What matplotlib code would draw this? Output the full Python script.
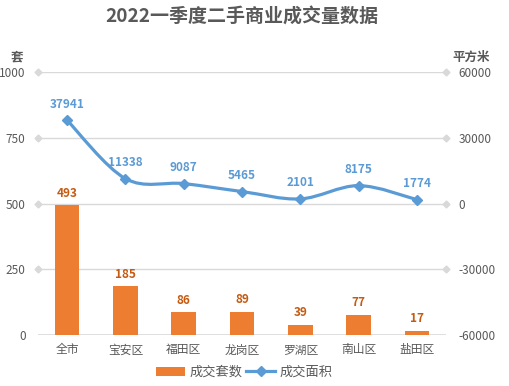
import numpy as np
import matplotlib
matplotlib.use("Agg")
import matplotlib.pyplot as plt
from matplotlib.path import Path
from matplotlib.patches import PathPatch, Patch
from matplotlib.lines import Line2D

plt.rcParams['font.family'] = ['Noto Sans CJK SC', 'DejaVu Sans']
plt.rcParams['axes.unicode_minus'] = False

# 数据
districts = ["全市", "宝安区", "福田区", "龙岗区", "罗湖区", "南山区", "盐田区"]
units = [493, 185, 86, 89, 39, 77, 17]
area = [37941, 11338, 9087, 5465, 2101, 8175, 1774]

left_ticks = [0, 250, 500, 750, 1000]
right_ticks = [-60000, -30000, 0, 30000, 60000]

orange = "#ED7D31"
blue = "#5B9BD5"
txt = "#595959"
grid_c = "#D9D9D9"

fig = plt.figure(figsize=(5.09, 3.86), dpi=100)
ax = fig.add_axes([0.0747, 0.132, 0.8015, 0.6815])
ax2 = ax.twinx()

x = np.arange(len(districts))

# 柱
ax.bar(x, units, width=0.42, color=orange, zorder=2)
for xi, v in zip(x, units):
    ax.annotate(str(v), (xi, v), xytext=(0, 4), textcoords="offset points",
                ha="center", va="bottom", color="#C55A11", fontsize=8.5,
                fontweight="bold")

ax.set_xlim(-0.5, len(districts) - 0.5)
ax.set_ylim(0, 1000)
ax.set_yticks(left_ticks)
ax2.set_ylim(-60000, 60000)
ax2.set_yticks(right_ticks)

# 网格
for t in left_ticks[1:]:
    ax.axhline(t, color=grid_c, lw=1, zorder=0)
ax.axhline(0, color=grid_c, lw=1.2, zorder=1)
for t in left_ticks[1:]:
    ax.plot([-0.5], [t], marker="D", ms=3.5, color=grid_c, clip_on=False, zorder=1)
for t in right_ticks[1:]:
    ax2.plot([len(districts) - 0.5], [t], marker="D", ms=3.5, color=grid_c,
             clip_on=False, zorder=1)

# 平滑曲线 (Catmull-Rom -> Bezier)
pts = np.column_stack([x, area]).astype(float)
disp = ax2.transData.transform(pts)
verts = [tuple(disp[0])]
codes = [Path.MOVETO]
n = len(disp)
s = 0.5 / 3
for i in range(n - 1):
    p0 = disp[max(i - 1, 0)]
    p1 = disp[i]
    p2 = disp[i + 1]
    p3 = disp[min(i + 2, n - 1)]
    c1 = p1 + (p2 - p0) * s
    c2 = p2 - (p3 - p1) * s
    verts += [tuple(c1), tuple(c2), tuple(p2)]
    codes += [Path.CURVE4] * 3
path = Path(verts, codes)
curve = PathPatch(path, facecolor="none", edgecolor=blue, lw=2.3,
                  transform=None, zorder=3)
ax2.add_artist(curve)
ax2.plot(x, area, linestyle="none", marker="D", ms=5, color=blue, zorder=4)
for xi, v in zip(x, area):
    ax2.annotate(str(v), (xi, v), xytext=(0, 7), textcoords="offset points",
                 ha="center", va="bottom", color=blue, fontsize=8.5,
                 fontweight="bold")

# 轴样式
for a in (ax, ax2):
    for sp in a.spines.values():
        sp.set_visible(False)
    a.tick_params(length=0, labelsize=8.5, labelcolor=txt)
ax.tick_params(axis="y", pad=9)
ax2.tick_params(axis="y", pad=9)
ax.set_xticks(x)
ax.set_xticklabels(districts, fontsize=8.5)
ax.tick_params(axis="x", pad=6)

fig.text(0.475, 0.955, "2022一季度二手商业成交量数据", ha="center", va="center",
         fontsize=13.7, fontweight="bold", color=txt)
fig.text(0.034, 0.852, "套", ha="center", va="center", fontsize=9,
         fontweight="bold", color=txt)
fig.text(0.925, 0.852, "平方米", ha="center", va="center", fontsize=9,
         fontweight="bold", color=txt)

handles = [Patch(facecolor=orange, edgecolor="none"),
           Line2D([], [], color=blue, lw=2.3, marker="D", ms=5)]
fig.legend(handles, ["成交套数", "成交面积"], loc="center",
           bbox_to_anchor=(0.48, 0.035), ncol=2, frameon=False, fontsize=9.5,
           handlelength=2.2, handletextpad=0.3, columnspacing=0.3,
           labelcolor=txt)

fig.savefig("out.png", dpi=100)
